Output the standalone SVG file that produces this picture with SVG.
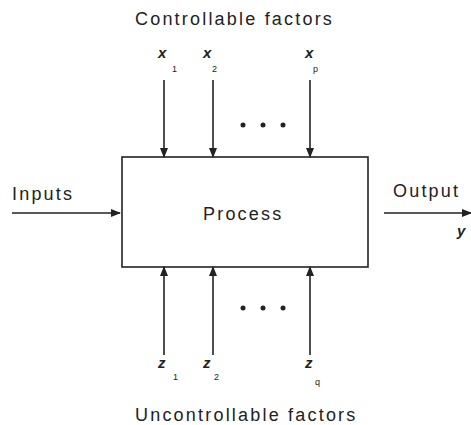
<svg xmlns="http://www.w3.org/2000/svg" width="471" height="425" viewBox="0 0 471 425">
<style>
text{font-family:"Liberation Sans",Arial,sans-serif;fill:#222}
.t{font-size:18px;letter-spacing:2.2px}
.v{font-size:15px;font-style:italic;font-weight:bold}
.s{font-size:9px}
.c line{stroke:#222;stroke-width:1.6}
.d{fill:#222}
</style>
<defs>
<marker id="a" markerWidth="10" markerHeight="8" refX="9" refY="4" orient="auto" markerUnits="userSpaceOnUse">
<path d="M0,0 L10,4 L0,8 Z" fill="#222"/>
</marker>
</defs>
<rect width="471" height="425" fill="#fff"/>
<g id="process">
<rect x="122" y="157" width="246" height="110" fill="#fff" stroke="#222" stroke-width="1.6"/>
<text class="t" x="203" y="220">Process</text>
</g>
<g id="labels">
<text class="t" x="135" y="25">Controllable factors</text>
<text class="t" x="135" y="421">Uncontrollable factors</text>
<text class="t" x="12" y="200">Inputs</text>
<text class="t" x="393" y="197">Output</text>
<text class="v" x="457" y="236">y</text>
<text class="v" x="158" y="58">x</text><text class="s" x="172" y="72">1</text>
<text class="v" x="203" y="58">x</text><text class="s" x="212" y="72">2</text>
<text class="v" x="305" y="58">x</text><text class="s" x="313" y="72">p</text>
<text class="v" x="158" y="368">z</text><text class="s" x="173" y="380">1</text>
<text class="v" x="203" y="368">z</text><text class="s" x="214" y="380">2</text>
<text class="v" x="305" y="368">z</text><text class="s" x="315" y="385">q</text>
</g>
<g id="connectors" class="c">
<line x1="164" y1="80" x2="164" y2="157" marker-end="url(#a)"/>
<line x1="213" y1="80" x2="213" y2="157" marker-end="url(#a)"/>
<line x1="310" y1="80" x2="310" y2="157" marker-end="url(#a)"/>
<line x1="164" y1="355" x2="164" y2="267" marker-end="url(#a)"/>
<line x1="213" y1="355" x2="213" y2="267" marker-end="url(#a)"/>
<line x1="310" y1="355" x2="310" y2="267" marker-end="url(#a)"/>
<line x1="12" y1="213" x2="120" y2="213" marker-end="url(#a)"/>
<line x1="384" y1="213" x2="471" y2="213" marker-end="url(#a)"/>
</g>
<g id="dots" class="d">
<circle cx="243" cy="125" r="2.5"/><circle cx="263" cy="125" r="2.5"/><circle cx="283" cy="125" r="2.5"/>
<circle cx="243" cy="308" r="2.5"/><circle cx="263" cy="308" r="2.5"/><circle cx="283" cy="308" r="2.5"/>
</g>
</svg>
